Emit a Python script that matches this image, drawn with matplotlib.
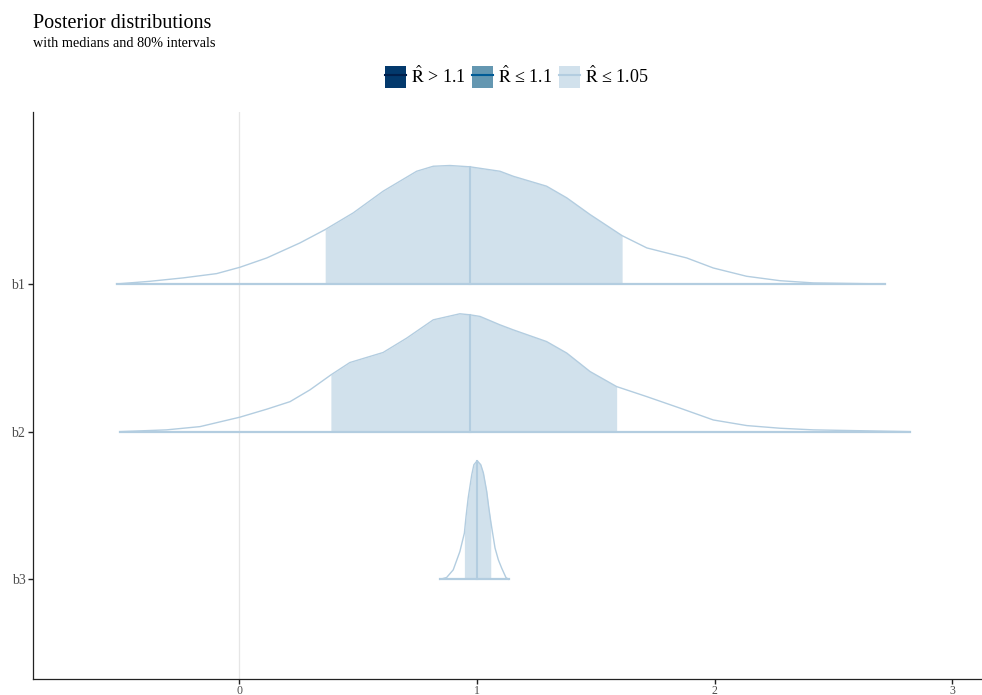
import matplotlib
matplotlib.use("Agg")
import matplotlib.pyplot as plt
from matplotlib.patches import Patch
from matplotlib.lines import Line2D
import numpy as np

plt.rcParams['font.family'] = ['Liberation Serif', 'DejaVu Serif']
plt.rcParams['mathtext.fontset'] = 'stix'

# Parameters (top to bottom) and their row position
params = ["b1", "b2", "b3"]
rows = [3, 2, 1]

# Density outlines (x, scaled height)
b1_x = [-0.517, -0.377, -0.237, -0.096, 0.002, 0.115, 0.255, 0.361, 0.479, 0.605, 0.746, 0.816, 0.886,
        0.971, 1.097, 1.153, 1.293, 1.378, 1.476, 1.611, 1.715, 1.883, 1.995, 2.135, 2.276, 2.416, 2.718]
b1_h = [0.0, 0.018, 0.041, 0.070, 0.113, 0.176, 0.278, 0.368, 0.481, 0.628, 0.763, 0.797, 0.802,
        0.793, 0.763, 0.729, 0.662, 0.583, 0.470, 0.327, 0.244, 0.176, 0.108, 0.052, 0.022, 0.007, 0.0]

b2_x = [-0.503, -0.307, -0.166, 0.002, 0.115, 0.213, 0.297, 0.385, 0.465, 0.605, 0.704, 0.816, 0.928, 0.971,
        1.013, 1.097, 1.153, 1.293, 1.378, 1.476, 1.588, 1.715, 1.855, 1.995, 2.136, 2.276, 2.416, 2.823]
b2_h = [0.0, 0.012, 0.034, 0.098, 0.152, 0.203, 0.283, 0.384, 0.468, 0.536, 0.633, 0.757, 0.798, 0.791,
        0.780, 0.723, 0.689, 0.610, 0.532, 0.407, 0.305, 0.237, 0.159, 0.079, 0.041, 0.023, 0.012, 0.0]

b3_x = [0.844, 0.872, 0.900, 0.928, 0.947, 0.954, 0.963, 0.978, 0.987, 1.001, 1.016, 1.027, 1.041, 1.049,
        1.058, 1.076, 1.090, 1.104, 1.122, 1.133]
b3_h = [0.0, 0.012, 0.064, 0.188, 0.313, 0.426, 0.551, 0.708, 0.776, 0.803, 0.776, 0.720, 0.595, 0.494,
        0.392, 0.212, 0.132, 0.076, 0.012, 0.0]

# 80% intervals and medians
ci_low = [0.361, 0.385, 0.947]
ci_high = [1.611, 1.588, 1.058]
medians = [0.971, 0.971, 1.001]

xticks = [0, 1, 2, 3]

light = "#d1e1ec"
light_hl = "#b3cde0"

fig = plt.figure(figsize=(9.82, 6.95), dpi=100)
ax = fig.add_axes([0.0336, 0.023, 0.9664, 0.816])

ax.axvline(0, color="#e6e6e6", lw=0.9, zorder=0)

curves = [(b1_x, b1_h), (b2_x, b2_h), (b3_x, b3_h)]
for (xs, hs), y0, lo, hi, med in zip(curves, rows, ci_low, ci_high, medians):
    xs = np.array(xs)
    hs = np.array(hs)
    inside = (xs >= lo - 1e-9) & (xs <= hi + 1e-9)
    ax.fill_between(xs, y0, y0 + hs, where=inside, color=light, lw=0, zorder=1)
    ax.plot(xs, y0 + hs, color=light_hl, lw=1.0, zorder=2, solid_joinstyle="round")
    ax.plot([xs[0], xs[-1]], [y0, y0], color=light_hl, lw=1.6, zorder=2)
    ax.plot([med, med], [y0, y0 + np.interp(med, xs, hs)], color=light_hl, lw=1.5, zorder=3)

ax.set_xlim(-0.869, 3.126)
ax.set_ylim(0.325, 4.165)
ax.set_yticks(rows)
ax.set_yticklabels(params)
ax.set_xticks(xticks)
ax.set_xticklabels([str(t) for t in xticks])
for s in ["top", "right"]:
    ax.spines[s].set_visible(False)
for s in ["left", "bottom"]:
    ax.spines[s].set_color("#222222")
    ax.spines[s].set_linewidth(0.9)
ax.tick_params(axis="both", colors="#222222", labelcolor="#4d4d4d", length=3.5, width=1.0)
ax.tick_params(axis="y", labelsize=10, pad=2)
ax.tick_params(axis="x", labelsize=8.5, pad=0.5)

# Title and subtitle
fig.text(0.0336, 0.966, "Posterior distributions", fontsize=14.5, ha="left", va="center")
fig.text(0.0336, 0.937, "with medians and 80% intervals", fontsize=10.3, ha="left", va="center")

# Rhat legend
handles = [
    (Patch(facecolor="#03396c", edgecolor="none"), Line2D([], [], color="#011f4b", lw=1.5)),
    (Patch(facecolor="#6497b1", edgecolor="none"), Line2D([], [], color="#005b96", lw=1.5)),
    (Patch(facecolor=light, edgecolor="none"), Line2D([], [], color=light_hl, lw=1.5)),
]
labels = [r"$\hat{\mathrm{R}}$ > 1.1", r"$\hat{\mathrm{R}}$ ≤ 1.1", r"$\hat{\mathrm{R}}$ ≤ 1.05"]
fig.legend(handles, labels, loc="center", bbox_to_anchor=(0.526, 0.889), ncol=3, frameon=False,
           fontsize=13, handlelength=1.2, handleheight=1.5, handletextpad=0.25, columnspacing=0.35,
           borderpad=0)

fig.savefig("out.png", dpi=100)
